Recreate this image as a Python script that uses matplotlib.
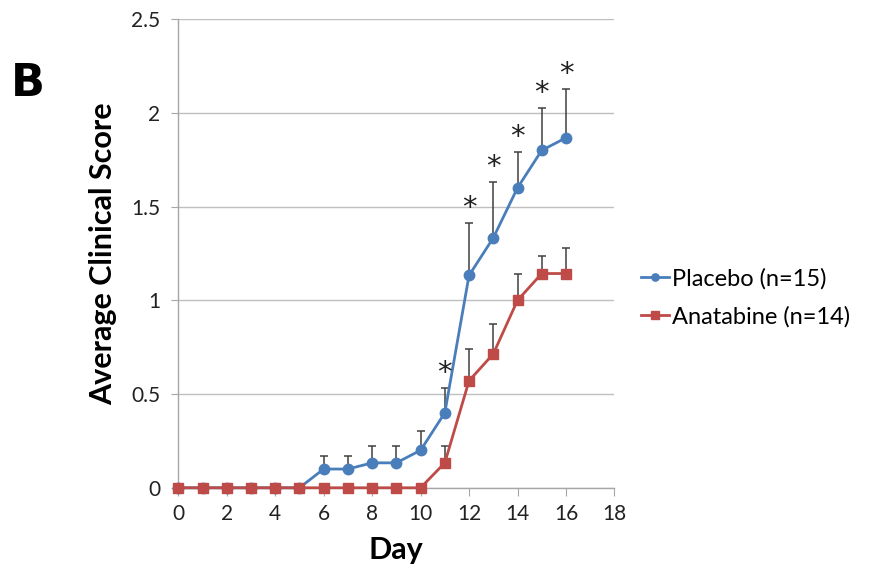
import numpy as np
import matplotlib
matplotlib.use("Agg")
from matplotlib import pyplot as plt
from matplotlib.ticker import FuncFormatter

days = list(range(17))
placebo = [0, 0, 0, 0, 0, 0, 0.1, 0.1, 0.133, 0.133, 0.2, 0.4, 1.133, 1.333, 1.6, 1.8, 1.867]
placebo_err = [0, 0, 0, 0, 0, 0, 0.067, 0.067, 0.09, 0.09, 0.105, 0.13, 0.278, 0.3, 0.19, 0.225, 0.258]
anatabine = [0, 0, 0, 0, 0, 0, 0, 0, 0, 0, 0, 0.133, 0.571, 0.714, 1.0, 1.143, 1.143]
anatabine_err = [0, 0, 0, 0, 0, 0, 0, 0, 0, 0, 0, 0.09, 0.168, 0.16, 0.14, 0.093, 0.138]
star_days = [11, 12, 13, 14, 15, 16]

blue = "#4A7EBB"
red = "#BE4B48"
font = ["Lato", "DejaVu Sans"]
plt.rcParams['font.family'] = font

fig = plt.figure(figsize=(8.74, 5.8), dpi=100)
ax = fig.add_axes([0.204, 0.159, 0.499, 0.808])

zeros = [0] * len(days)
ax.errorbar(days, placebo, yerr=[zeros, placebo_err], fmt="none", ecolor="#404040",
            elinewidth=1.1, capsize=3, capthick=1.1, zorder=2)
ax.errorbar(days, anatabine, yerr=[zeros, anatabine_err], fmt="none", ecolor="#404040",
            elinewidth=1.1, capsize=3, capthick=1.1, zorder=2)
ax.plot(days, placebo, color=blue, lw=2, marker="o", ms=7.5, label="Placebo (n=15)",
        zorder=3, clip_on=False)
ax.plot(days, anatabine, color=red, lw=2, marker="s", ms=7.5, label="Anatabine (n=14)",
        zorder=3, clip_on=False)

# significance stars above the placebo error bars
for d in star_days:
    ax.text(d, placebo[d] + placebo_err[d] + 0.005, "*", ha="center", va="bottom",
            fontsize=21, color="#202020", family="DejaVu Sans")

ax.set_xlim(0, 18)
ax.set_ylim(0, 2.5)
ax.set_xticks(range(0, 19, 2))
ax.set_yticks(np.arange(0, 2.51, 0.5))
ax.yaxis.set_major_formatter(FuncFormatter(lambda v, p: f"{v:g}"))
ax.grid(axis="y", color="#BFBFBF", lw=1)
ax.set_axisbelow(True)
for s in ["top", "right"]:
    ax.spines[s].set_visible(False)
for s in ["left", "bottom"]:
    ax.spines[s].set_color("#A6A6A6")
    ax.spines[s].set_linewidth(1)
ax.tick_params(axis="x", direction="out", length=6, color="#A6A6A6", labelsize=15, pad=6, labelcolor="#222222")
ax.tick_params(axis="y", direction="out", length=5, color="#A6A6A6", labelsize=15, pad=8, labelcolor="#222222")
ax.set_xlabel("Day", fontsize=22, fontweight="bold", labelpad=8)
ax.set_ylabel("Average Clinical Score", fontsize=22, fontweight="bold", labelpad=10)

leg = ax.legend(loc="center left", bbox_to_anchor=(1.012, 0.405), frameon=False, fontsize=17,
                handlelength=1.2, handletextpad=0.1, labelspacing=0.7, markerscale=0.7)

fig.text(0.012, 0.835, "B", fontsize=32, fontweight="bold", family="DejaVu Sans")

plt.savefig("out.png", dpi=100)
